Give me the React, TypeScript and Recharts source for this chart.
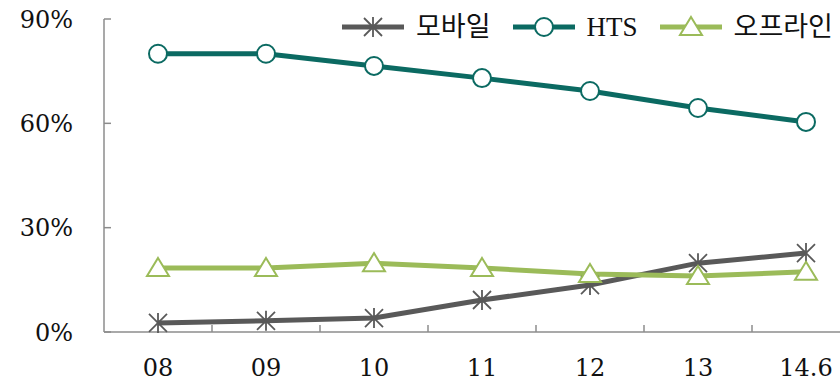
import React from 'react';
import { LineChart, Line, XAxis, YAxis, Legend } from 'recharts';

const categories = ['08', '09', '10', '11', '12', '13', '14.6'];
const mobileValues = [2.6, 3.2, 4.0, 9.2, 13.5, 19.8, 22.7];
const htsValues = [80, 80, 76.5, 73, 69.3, 64.4, 60.4];
const offlineValues = [18.4, 18.4, 19.8, 18.4, 16.7, 16.1, 17.3];
const yTicks = [0, 30, 60, 90];
const seriesNames = ['모바일', 'HTS', '오프라인'];

const data = categories.map((c, i) => ({
  cat: c,
  mobile: mobileValues[i],
  hts: htsValues[i],
  offline: offlineValues[i],
}));

const C_MOBILE = '#595959';
const C_HTS = '#0b6a62';
const C_OFF = '#9bbb59';
const AXIS = '#8c8c8c';
const FONT = '"DejaVu Serif", "Noto Sans CJK KR", serif';
const LEGEND_FONT = '"Liberation Serif", "Noto Sans CJK KR", serif';

const Asterisk = ({ cx, cy, color, s = 9 }: any) => (
  <g stroke={color} strokeWidth={1.8} fill="none">
    <line x1={cx - s} y1={cy - s} x2={cx + s} y2={cy + s} />
    <line x1={cx - s} y1={cy + s} x2={cx + s} y2={cy - s} />
    <line x1={cx} y1={cy - s - 1} x2={cx} y2={cy + s + 1} />
  </g>
);

const Circle = ({ cx, cy, color, r = 9 }: any) => (
  <circle cx={cx} cy={cy} r={r} fill="#fff" stroke={color} strokeWidth={2} />
);

const Triangle = ({ cx, cy, color, s = 11 }: any) => (
  <polygon
    points={`${cx},${cy - s + 1} ${cx + s},${cy + s - 3} ${cx - s},${cy + s - 3}`}
    fill="#fff"
    stroke={color}
    strokeWidth={2}
  />
);

const markers = [Asterisk, Circle, Triangle];
const colors = [C_MOBILE, C_HTS, C_OFF];

const XTick = (props: any) => {
  const { x, y, payload, index } = props;
  return (
    <g>
      {index > 0 && (
        <line x1={x - 54} x2={x - 54} y1={y} y2={y - 7} stroke={AXIS} strokeWidth={1.5} />
      )}
      <text x={x} y={y + 37} textAnchor="middle" dominantBaseline="middle" fontSize={24} fontFamily={FONT} fill="#111">
        {payload.value}
      </text>
    </g>
  );
};

const LegendContent = () => (
  <div style={{ display: 'flex', alignItems: 'center', fontFamily: LEGEND_FONT, fontSize: 27, color: '#111' }}>
    {seriesNames.map((name, i) => {
      const M = markers[i];
      return (
        <div key={name} style={{ display: 'flex', alignItems: 'center', marginRight: 22 }}>
          <svg width={62} height={26} style={{ display: 'block' }}>
            <line x1={0} x2={62} y1={13} y2={13} stroke={colors[i]} strokeWidth={5} />
            <M cx={31} cy={13} color={colors[i]} />
          </svg>
          <span style={{ marginLeft: 12, lineHeight: '26px' }}>{name}</span>
        </div>
      );
    })}
  </div>
);

export default function App() {
  return (
    <div style={{ width: 840, height: 381, overflow: 'hidden', position: 'relative' }}>
      <style>{'body{margin:0;overflow:hidden}'}</style>
      <LineChart width={860} height={381} data={data} margin={{ top: 19, right: 0, bottom: 0, left: 0 }}>
        <XAxis
          dataKey="cat"
          padding={{ left: 54, right: 54 }}
          height={49}
          tickLine={false}
          tickSize={0}
          tickMargin={0}
          axisLine={{ stroke: AXIS, strokeWidth: 1.5 }}
          tick={<XTick />}
          interval={0}
        />
        <YAxis
          width={104}
          domain={[0, 90]}
          ticks={yTicks}
          tickFormatter={(v: number) => `${v}%`}
          tickSize={-7}
          tickMargin={38}
          axisLine={{ stroke: AXIS, strokeWidth: 1.5 }}
          tickLine={{ stroke: AXIS, strokeWidth: 1.5 }}
          tick={{ fontSize: 24, fontFamily: FONT, fill: '#111' }}
          interval={0}
        />
        <Legend
          layout="horizontal"
          verticalAlign="middle"
          align="center"
          wrapperStyle={{ top: 14, left: 342, width: 520 }}
          content={<LegendContent />}
        />
        <Line
          dataKey="mobile"
          name={seriesNames[0]}
          stroke={C_MOBILE}
          strokeWidth={5}
          isAnimationActive={false}
          dot={(p: any) => <Asterisk key={`m${p.index}`} cx={p.cx} cy={p.cy} color={C_MOBILE} />}
        />
        <Line
          dataKey="hts"
          name={seriesNames[1]}
          stroke={C_HTS}
          strokeWidth={5}
          isAnimationActive={false}
          dot={(p: any) => <Circle key={`h${p.index}`} cx={p.cx} cy={p.cy} color={C_HTS} />}
        />
        <Line
          dataKey="offline"
          name={seriesNames[2]}
          stroke={C_OFF}
          strokeWidth={5}
          isAnimationActive={false}
          dot={(p: any) => <Triangle key={`o${p.index}`} cx={p.cx} cy={p.cy} color={C_OFF} />}
        />
      </LineChart>
    </div>
  );
}
